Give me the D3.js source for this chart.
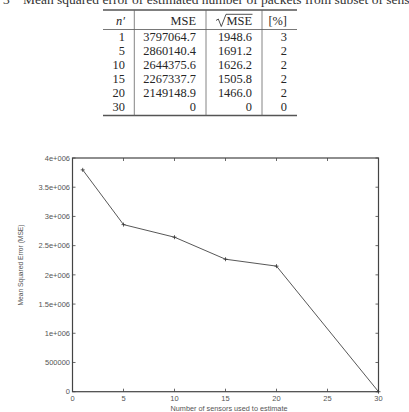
<!DOCTYPE html>
<html><head><meta charset="utf-8">
<script src="https://cdn.jsdelivr.net/npm/d3@7/dist/d3.min.js"></script>
<style>body{margin:0;background:#fff}svg{display:block}</style>
</head><body><svg id="c" width="409" height="412"></svg>
<script>
const sensors = [1, 5, 10, 15, 20, 30];
const mse = [3797064.7, 2860140.4, 2644375.6, 2267337.7, 2149148.9, 0];
const mseText = ["3797064.7","2860140.4","2644375.6","2267337.7","2149148.9","0"];
const rootMse = ["1948.6","1691.2","1626.2","1505.8","1466.0","0"];
const pct = ["3","2","2","2","2","0"];
const xTicks = [0, 5, 10, 15, 20, 25, 30];
const yTicks = [0, 500000, 1000000, 1500000, 2000000, 2500000, 3000000, 3500000, 4000000];
const yTickLabels = ["0","500000","1e+006","1.5e+006","2e+006","2.5e+006","3e+006","3.5e+006","4e+006"];
const captionNum = "3";
const caption = "Mean squared error of estimated number of packets from subset of sensors";

const svg = d3.select("#c");
const serif = "'Liberation Serif','DejaVu Serif',serif";
const sans = "'Liberation Sans',Arial,sans-serif";

// caption (cut off at top)
svg.append("text").attr("x", 3).attr("y", 3.5).attr("font-family", serif)
  .attr("font-size", 13.5).attr("fill", "#333").text(captionNum);
svg.append("text").attr("x", 23).attr("y", 3.5).attr("font-family", serif)
  .attr("font-size", 13.5).attr("fill", "#333").text(caption);

// table
const tL = 103, tR = 297;
const g = svg.append("g").attr("font-family", serif).attr("font-size", 12.4).attr("fill", "#262626");
g.append("line").attr("x1", tL).attr("x2", tR).attr("y1", 10).attr("y2", 10).attr("stroke", "#555").attr("stroke-width", 1.4);
g.append("line").attr("x1", tL).attr("x2", tR).attr("y1", 29.5).attr("y2", 29.5).attr("stroke", "#555").attr("stroke-width", 0.8);
g.append("line").attr("x1", tL).attr("x2", tR).attr("y1", 115.5).attr("y2", 115.5).attr("stroke", "#555").attr("stroke-width", 1.4);
[134.3, 206, 262].forEach(x => g.append("line").attr("x1", x).attr("x2", x).attr("y1", 10).attr("y2", 115.5).attr("stroke", "#666").attr("stroke-width", 0.8));
const colR = [125, 196, 252, 287];
const hy = 25;
g.append("text").attr("x", colR[0]).attr("y", hy).attr("text-anchor", "end").attr("font-style", "italic").text("n′");
g.append("text").attr("x", colR[1]).attr("y", hy).attr("text-anchor", "end").text("MSE");
g.append("text").attr("x", colR[2]).attr("y", hy).attr("text-anchor", "end").text("MSE");
g.append("path").attr("d", "M216,20.5 L218.3,19 L221.3,26.5 L226,14.3 L252.5,14.3")
  .attr("fill", "none").attr("stroke", "#262626").attr("stroke-width", 0.8);
g.append("text").attr("x", colR[3]).attr("y", hy).attr("text-anchor", "end").text("[%]");
const rowY = d3.scaleLinear().domain([0, 5]).range([41.3, 110.7]);
sensors.forEach((s, i) => {
  const y = rowY(i);
  [String(s), mseText[i], rootMse[i], pct[i]].forEach((t, j) =>
    g.append("text").attr("x", colR[j]).attr("y", y).attr("text-anchor", "end").text(t));
});

// chart
const L = 72.5, R = 378.5, T = 158, B = 391.7;
const x = d3.scaleLinear().domain([0, 30]).range([L, R]);
const y = d3.scaleLinear().domain([0, 4000000]).range([B, T]);
const axc = "#444";
svg.append("rect").attr("x", L).attr("y", T).attr("width", R - L).attr("height", B - T)
  .attr("fill", "none").attr("stroke", axc).attr("stroke-width", 1.2);
const tl = 3;
const ax = svg.append("g").attr("stroke", axc).attr("stroke-width", 0.8);
xTicks.forEach(v => {
  ax.append("line").attr("x1", x(v)).attr("x2", x(v)).attr("y1", B).attr("y2", B - tl);
  ax.append("line").attr("x1", x(v)).attr("x2", x(v)).attr("y1", T).attr("y2", T + tl);
});
yTicks.forEach(v => {
  ax.append("line").attr("x1", L).attr("x2", L + tl).attr("y1", y(v)).attr("y2", y(v));
  ax.append("line").attr("x1", R).attr("x2", R - tl).attr("y1", y(v)).attr("y2", y(v));
});
const lab = svg.append("g").attr("font-family", sans).attr("font-size", 7.5).attr("fill", "#555");
xTicks.forEach(v => lab.append("text").attr("x", x(v)).attr("y", B + 9.5).attr("text-anchor", "middle").text(v));
yTicks.forEach((v, i) => lab.append("text").attr("x", L - 2.5).attr("y", y(v) + 2.7).attr("text-anchor", "end").text(yTickLabels[i]));
lab.append("text").attr("x", 229).attr("y", 411.3).attr("text-anchor", "middle")
  .attr("textLength", 117).attr("lengthAdjust", "spacingAndGlyphs").text("Number of sensors used to estimate");
lab.append("text").attr("transform", `translate(22.5,265) rotate(-90)`).attr("text-anchor", "middle")
  .attr("textLength", 81).attr("lengthAdjust", "spacingAndGlyphs").text("Mean Squared Error (MSE)");

const pts = sensors.map((s, i) => [s, mse[i]]);
svg.append("path").attr("d", d3.line().x(d => x(d[0])).y(d => y(d[1]))(pts))
  .attr("fill", "none").attr("stroke", "#444").attr("stroke-width", 0.9);
const mk = svg.append("g").attr("stroke", "#333").attr("stroke-width", 0.8);
pts.forEach(d => {
  mk.append("line").attr("x1", x(d[0]) - 2).attr("x2", x(d[0]) + 2).attr("y1", y(d[1])).attr("y2", y(d[1]));
  mk.append("line").attr("x1", x(d[0])).attr("x2", x(d[0])).attr("y1", y(d[1]) - 2).attr("y2", y(d[1]) + 2);
});
</script></body></html>
